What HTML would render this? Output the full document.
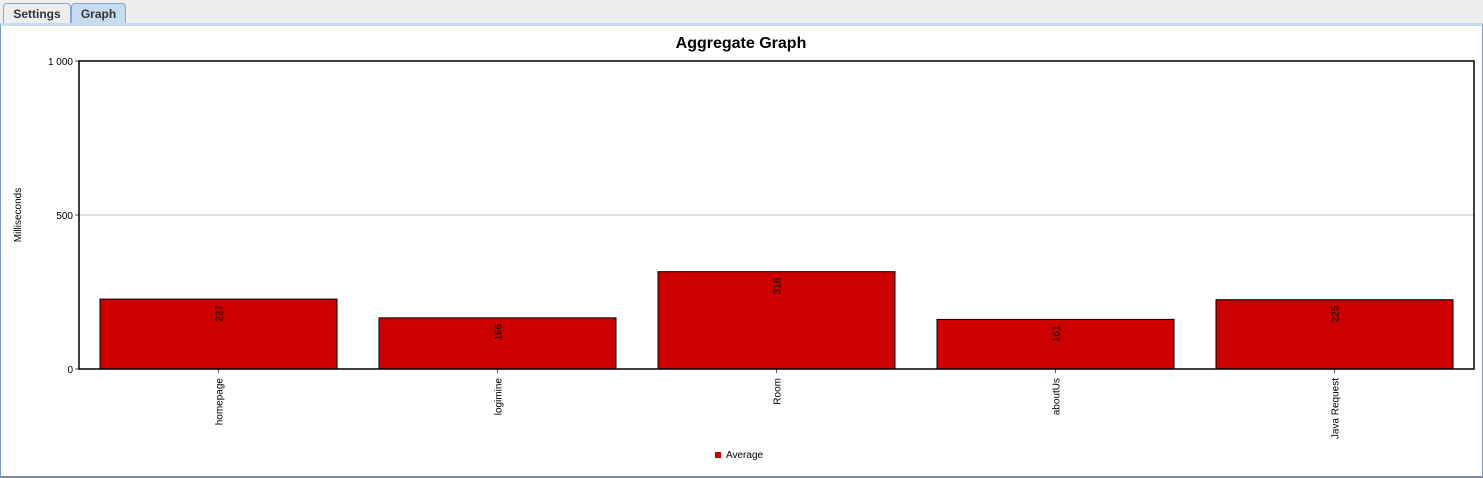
<!DOCTYPE html>
<html><head><meta charset="utf-8"><style>
body{margin:0;width:1483px;height:476px;background:#eeeeee;font-family:"Liberation Sans",sans-serif;overflow:hidden;position:relative}
.tab{position:absolute;top:3px;height:20px;border:1px solid #8da4c8;border-bottom:none;border-radius:4px 4px 0 0;font-size:12px;font-weight:bold;color:#333;line-height:20px;text-align:center}
</style></head><body>
<div class="tab" style="left:3px;width:66px;background:#eeeeee">Settings</div>
<div class="tab" style="left:71px;width:53px;background:#c8dcf0">Graph</div>
<div style="position:absolute;left:0;top:23px;width:1481px;height:450px;border:1px solid #7b9ac8;border-top:3px solid #c8dcf0;border-bottom:2px solid #7d8aa0;background:#fff"></div>
<svg id="c" width="1483" height="476" style="position:absolute;left:0;top:0">
<text x="741" y="48" text-anchor="middle" font-size="16" font-weight="bold" font-family="Liberation Sans">Aggregate Graph</text>
</svg>
<script>
const categories=["homepage","logimine","Room","aboutUs","Java Request"];
const values=[227,166,316,161,225];
const ticks=[0,500,1000];
const tickLabels=["0","500","1 000"];
const svg=document.getElementById('c');
const NS="http://www.w3.org/2000/svg";
const L=79,R=1474,T=61,B=369,maxV=1000;
const y=v=>B-(B-T)*v/maxV;
const cw=(R-L)/categories.length;
const xc=i=>L+cw*(i+0.5);
function mk(t,a,txt){const e=document.createElementNS(NS,t);for(const k in a)e.setAttribute(k,a[k]);if(txt!==undefined)e.textContent=txt;svg.appendChild(e);return e;}
ticks.forEach((t,i)=>{
 if(t>0&&t<maxV){const g=mk('line',{x1:L,x2:R,y1:y(t),y2:y(t),stroke:'#c0c0c0'});
 
 }
 mk('line',{x1:L-4,x2:L,y1:y(t),y2:y(t),stroke:'#555'});
 const tl=mk('text',{x:L-6,y:y(t)+4,'text-anchor':'end','font-size':10,'font-family':'Liberation Sans'},tickLabels[i]);
 
 
});
values.forEach((v,i)=>{
 const bw=237;
 const b=mk('rect',{x:xc(i)-bw/2,y:y(v),width:bw,height:B-y(v),fill:'#cc0000',stroke:'#000','stroke-width':1});
 
 
 const vl=mk('text',{transform:`translate(${xc(i)+4},${y(v)+6}) rotate(-90)`,'text-anchor':'end','font-size':10,'font-family':'Liberation Sans'},String(v));
 
 
 mk('line',{x1:xc(i),x2:xc(i),y1:B,y2:B+4,stroke:'#555'});
 const cl=mk('text',{transform:`translate(${xc(i)+4},${B+9}) rotate(-90)`,'text-anchor':'end','font-size':10,'font-family':'Liberation Sans'},categories[i]);
 
 
});
const fr=mk('rect',{x:L,y:T,width:R-L,height:B-T,fill:'none',stroke:'#000','stroke-width':1.5});


const yt=mk('text',{transform:'translate(21,215) rotate(-90)','text-anchor':'middle','font-size':10,'font-family':'Liberation Sans'},'Milliseconds');


const ls=mk('rect',{x:715,y:452,width:6,height:6,fill:'#cc0000'});


const lt=mk('text',{x:726,y:458,'font-size':10,'font-family':'Liberation Sans'},'Average');


</script>
</body></html>
